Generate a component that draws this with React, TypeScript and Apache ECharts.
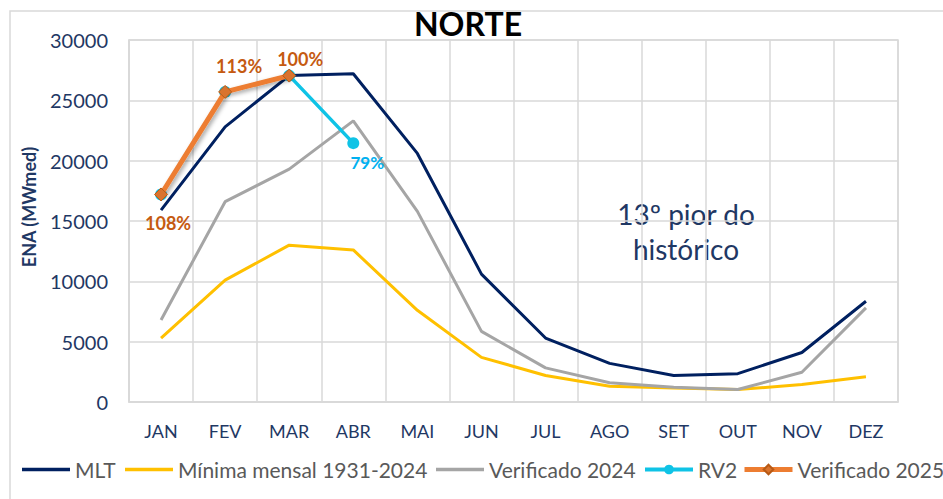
import React, { useEffect, useRef } from 'react';
import * as echarts from 'echarts';

const months = ['JAN', 'FEV', 'MAR', 'ABR', 'MAI', 'JUN', 'JUL', 'AGO', 'SET', 'OUT', 'NOV', 'DEZ'];
const mlt = [15900, 22800, 27050, 27200, 20600, 10600, 5300, 3200, 2200, 2350, 4100, 8350];
const minimaMensal = [5300, 10100, 13000, 12600, 7600, 3700, 2200, 1300, 1170, 1030, 1450, 2100];
const verificado2024 = [6800, 16600, 19300, 23300, 15800, 5850, 2830, 1590, 1230, 1030, 2470, 7800];
const rv2 = [17200, 25700, 27050, 21450];
const verificado2025 = [17200, 25700, 27050];
const pct2025 = ['108%', '113%', '100%'];
const pctRV2 = ['', '', '', '79%'];
const yTicks = { min: 0, max: 30000, interval: 5000 };

const NAVY = '#002060';
const TXT = '#1F3864';
const FONT = 'Lato';

export default function App() {
  const ref = useRef<HTMLDivElement>(null);
  useEffect(() => {
    const chart = echarts.init(ref.current!, null, { renderer: 'svg' });
    const labelOffsets2025 = [[7, 29], [14, -26], [11, -17]];
    const legendDefs = [
      { name: 'MLT', left: 22, plain: true, lw: 3 },
      { name: 'Mínima mensal 1931-2024', left: 125, plain: true, lw: 3 },
      { name: 'Verificado 2024', left: 436, plain: true, lw: 3 },
      { name: 'RV2', left: 643, plain: false, lw: 4 },
      { name: 'Verificado 2025', left: 742, plain: false, lw: 5 },
    ];
    const option: any = {
      animation: false,
      backgroundColor: '#ffffff',
      textStyle: { fontFamily: FONT },
      grid: { left: 129, top: 40, width: 769, height: 362, show: true, borderColor: '#D9D9D9', borderWidth: 1.5 },
      graphic: [
        { type: 'rect', shape: { x: 10, y: 11, width: 945, height: 500 }, style: { fill: 'none', stroke: '#D9D9D9', lineWidth: 1.5 }, silent: true, z: -10 },
        { type: 'text', x: 468, y: 23, style: { text: 'NORTE', fontFamily: FONT, fontWeight: 'bold', fontSize: 32, fill: '#000', textAlign: 'center', textVerticalAlign: 'middle' } },
        { type: 'text', x: 29, y: 207, rotation: Math.PI / 2, style: { text: 'ENA (MWmed)', fontFamily: FONT, fontWeight: 'bold', fontSize: 18, fill: TXT, textAlign: 'center', textVerticalAlign: 'middle' } },
        { type: 'text', x: 686, y: 231, style: { text: '13º pior do\nhistórico', fontFamily: FONT, fontSize: 28, lineHeight: 35, fill: TXT, textAlign: 'center', textVerticalAlign: 'middle' } },
      ],
      legend: legendDefs.map((l) => ({
        data: l.plain ? [{ name: l.name, icon: 'rect' }] : [l.name],
        left: l.left,
        top: 459,
        itemWidth: 48,
        itemHeight: l.plain ? 3.5 : 12,
        padding: 0,
        lineStyle: l.plain ? undefined : { width: l.lw },
        textStyle: { fontFamily: FONT, fontSize: 21, color: '#595959' },
      })),
      xAxis: {
        type: 'category',
        data: months,
        boundaryGap: true,
        axisLine: { show: true, lineStyle: { color: '#D9D9D9', width: 1.5 } },
        axisTick: { show: false },
        splitLine: { show: true, interval: 0, lineStyle: { color: '#D9D9D9', width: 1.5 } },
        axisLabel: { color: TXT, fontSize: 18, fontFamily: FONT, margin: 20, interval: 0 },
      },
      yAxis: {
        type: 'value',
        min: yTicks.min,
        max: yTicks.max,
        interval: yTicks.interval,
        axisLine: { show: true, lineStyle: { color: '#D9D9D9', width: 1.5 } },
        axisTick: { show: false },
        splitLine: { show: true, lineStyle: { color: '#D9D9D9', width: 1.5 } },
        axisLabel: { color: TXT, fontSize: 20, fontFamily: FONT, margin: 21, formatter: (v: number) => String(v) },
      },
      series: [
        { name: 'MLT', type: 'line', data: mlt, symbol: 'none', lineStyle: { color: NAVY, width: 3 }, itemStyle: { color: NAVY }, z: 3 },
        { name: 'Mínima mensal 1931-2024', type: 'line', data: minimaMensal, symbol: 'none', lineStyle: { color: '#FFC000', width: 3 }, itemStyle: { color: '#FFC000' }, z: 2 },
        { name: 'Verificado 2024', type: 'line', data: verificado2024, symbol: 'none', lineStyle: { color: '#A5A5A5', width: 3 }, itemStyle: { color: '#A5A5A5' }, z: 2 },
        {
          name: 'RV2', type: 'line', data: rv2, symbol: 'circle', symbolSize: 12, showSymbol: true,
          lineStyle: { color: '#0FC3E6', width: 3.5 }, itemStyle: { color: '#0FC3E6' }, z: 4,
          label: {
            show: true, position: 'inside', offset: [14, 19],
            formatter: (p: any) => pctRV2[p.dataIndex],
            color: '#00B0F0', fontWeight: 'bold', fontSize: 17, fontFamily: FONT,
          },
        },
        {
          name: 'Verificado 2025', type: 'line',
          data: verificado2025.map((v, i) => ({ value: v, label: { offset: labelOffsets2025[i] } })),
          symbol: 'diamond', symbolSize: 13, showSymbol: true,
          lineStyle: { color: '#ED7D31', width: 5, shadowColor: 'rgba(0,0,0,0.35)', shadowBlur: 4, shadowOffsetX: 2, shadowOffsetY: 2 },
          itemStyle: { color: '#D9732E', borderColor: '#B85A14', borderWidth: 1 }, z: 5,
          label: {
            show: true, position: 'inside',
            formatter: (p: any) => pct2025[p.dataIndex],
            color: '#C55A11', fontWeight: 'bold', fontSize: 18, fontFamily: FONT,
          },
        },
      ],
    };
    chart.setOption(option);
    return () => chart.dispose();
  }, []);
  return <div ref={ref} style={{ position: 'fixed', left: 0, top: 0, width: 943, height: 499, background: '#fff' }} />;
}
